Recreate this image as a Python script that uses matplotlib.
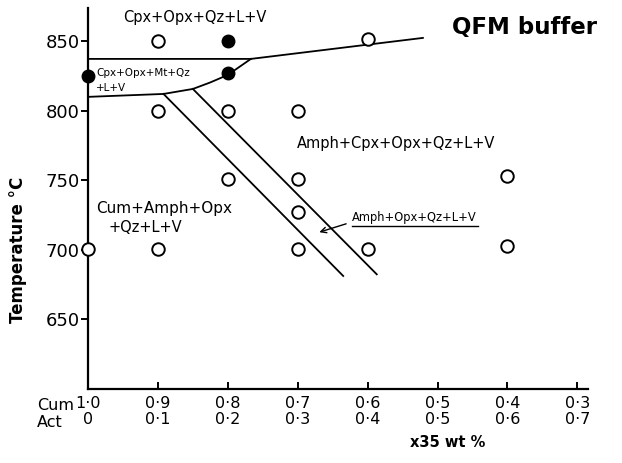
import matplotlib
matplotlib.use("Agg")
import matplotlib.pyplot as plt

plt.rcParams["font.family"] = ["DejaVu Sans"]

# x = Act fraction, y = temperature (°C)
open_act = [0.1, 0.4, 0.1, 0.2, 0.3, 0.2, 0.3, 0.6, 0.3, 0.0, 0.1, 0.3, 0.4, 0.6]
open_temp = [850, 852, 800, 800, 800, 751, 751, 753, 727, 701, 701, 701, 701, 703]
filled_act = [0.2, 0.0, 0.2]
filled_temp = [850, 825, 827]

# phase boundaries
top_act = [0.0, 0.233, 0.479]
top_temp = [837.4, 837.4, 852.5]
low_act = [0.0, 0.108, 0.15, 0.175, 0.2, 0.233]
low_temp = [810.1, 812.2, 815.8, 820.5, 825.9, 837.4]
diag1_act = [0.108, 0.365]
diag1_temp = [812.2, 681.3]
diag2_act = [0.15, 0.413]
diag2_temp = [815.8, 682.5]

tick_pos = [0.0, 0.1, 0.2, 0.3, 0.4, 0.5, 0.6, 0.7]
cum_labels = ["1·0", "0·9", "0·8", "0·7", "0·6", "0·5", "0·4", "0·3"]
act_labels = ["0", "0·1", "0·2", "0·3", "0·4", "0·5", "0·6", "0·7"]
y_ticks = [650, 700, 750, 800, 850]

fig = plt.figure(figsize=(6.22, 4.63), dpi=100)
ax = fig.add_axes([0.1415, 0.1598, 0.804, 0.8229])
ax.set_xlim(0, 0.7153)
ax.set_ylim(600, 874)

lw = 1.3
ax.plot(top_act, top_temp, color="black", lw=lw)
ax.plot(low_act, low_temp, color="black", lw=lw)
ax.plot(diag1_act, diag1_temp, color="black", lw=lw)
ax.plot(diag2_act, diag2_temp, color="black", lw=lw)

ax.plot(open_act, open_temp, "o", ms=9, mfc="white", mec="black", mew=1.4,
        clip_on=False, zorder=5)
ax.plot(filled_act, filled_temp, "o", ms=9, mfc="black", mec="black",
        clip_on=False, zorder=5)

# labels of the fields
ax.text(0.050, 867, "Cpx+Opx+Qz+L+V", fontsize=10.5, va="center")
ax.text(0.0114, 827.3, "Cpx+Opx+Mt+Qz", fontsize=7.5, va="center")
ax.text(0.0114, 816.5, "+L+V", fontsize=7.5, va="center")
ax.text(0.299, 776.3, "Amph+Cpx+Opx+Qz+L+V", fontsize=10.5, va="center")
ax.text(0.0114, 729.5, "Cum+Amph+Opx", fontsize=11, va="center")
ax.text(0.0286, 716.5, "+Qz+L+V", fontsize=10.5, va="center")
ax.text(0.378, 723, "Amph+Opx+Qz+L+V", fontsize=8.3, va="center")
ax.plot([0.378, 0.558], [717.3, 717.3], color="black", lw=1.0)
ax.annotate("", xy=(0.327, 712.2), xytext=(0.373, 719.4),
            arrowprops=dict(arrowstyle="->", color="black", lw=1.0))
ax.text(0.521, 859.7, "QFM buffer", fontsize=16.5, fontweight="bold", va="center")

for s in ["top", "right"]:
    ax.spines[s].set_visible(False)
ax.spines["left"].set_linewidth(1.6)
ax.spines["bottom"].set_linewidth(1.6)

ax.set_yticks(y_ticks)
ax.set_yticklabels([str(v) for v in y_ticks], fontsize=13)
ax.tick_params(axis="y", direction="out", length=5, width=1.4, pad=1)

ax.set_xticks(tick_pos)
ax.set_xticklabels([c + "\n" + a for c, a in zip(cum_labels, act_labels)],
                   fontsize=11.5, linespacing=1.05)
ax.tick_params(axis="x", direction="in", length=5, width=1.4, pad=5)

fig.text(0.060, 0.124, "Cum", fontsize=11.5, va="center")
fig.text(0.060, 0.088, "Act", fontsize=11.5, va="center")
fig.text(0.72, 0.045, "x35 wt %", fontsize=10.5, fontweight="bold",
         ha="center", va="center")
fig.text(0.029, 0.46, "Temperature °C", fontsize=12, fontweight="bold",
         rotation=90, ha="center", va="center")

fig.savefig("out.png", dpi=100)
